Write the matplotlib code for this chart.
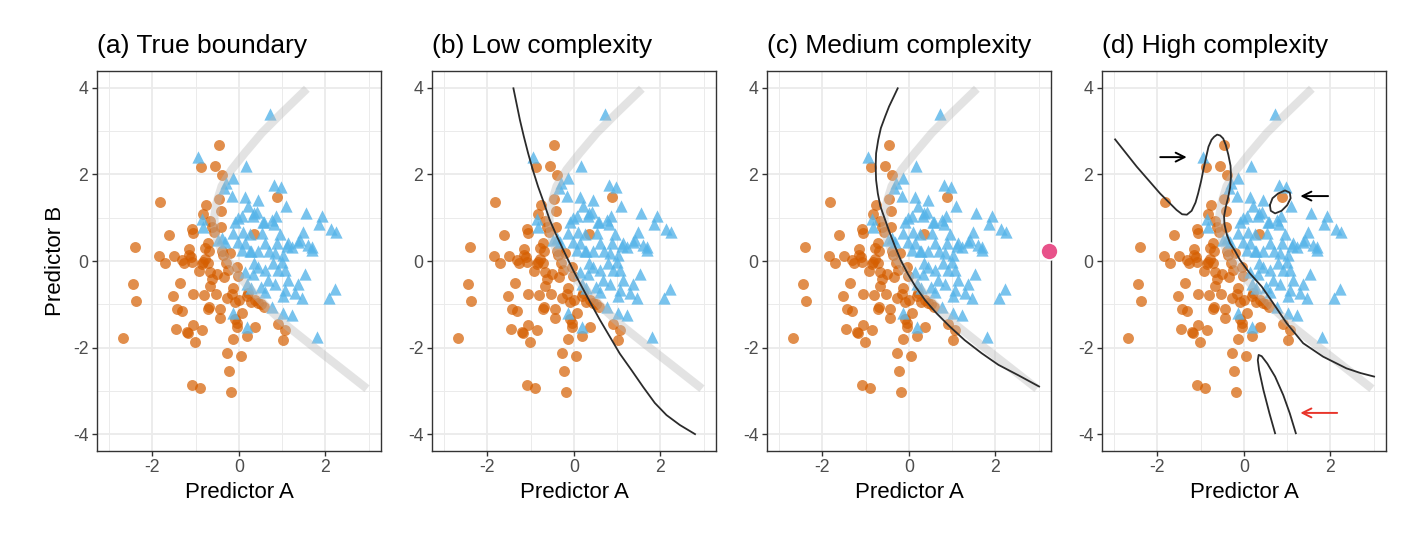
import matplotlib
matplotlib.use('Agg')
import matplotlib.pyplot as plt
from matplotlib.ticker import FixedLocator

plt.rcParams['font.family'] = ['Liberation Sans', 'DejaVu Sans']
plt.rcParams['axes.unicode_minus'] = False

# class 1 (orange circles)
orange_x = [-0.46, -0.87, -0.56, -0.40, -1.83, 0.88, -0.45, -0.76, -0.42, -0.82,
            -0.68, -1.62, -2.41, -1.09, -1.06, -0.63, -0.58, -0.42, -0.71, -0.79,
            -0.69, -1.15, -1.16, -1.85, -1.72, -1.51, -1.31, -1.27, -1.11, -1.08,
            -0.84, -0.78, -0.72, -0.86, -0.40, -0.21, -0.36, 0.34, -0.92, -0.66,
            -0.63, -0.66, -0.29, -0.25, -0.05, -0.03, -0.51, -0.34, -2.45, -2.37,
            -1.36, -1.52, -1.06, -0.80, -0.53, -0.13, -0.17, -0.28, -0.08, 0.00,
            0.22, 0.18, 0.27, 0.36, 0.45, 0.58, 0.52, -1.44, -1.31, -0.71,
            -0.69, -0.44, -0.43, 0.06, -0.09, -0.05, -0.05, 0.37, 0.18, 0.91,
            1.06, 1.02, -1.46, -1.19, -1.18, -1.06, -0.86, -1.01, -2.69, -0.13,
            -0.28, 0.05, -0.24, -1.09, -0.89, -0.19]
orange_y = [2.68, 2.17, 2.19, 1.99, 1.37, 1.49, 1.43, 1.30, 1.15, 1.09,
            0.92, 0.59, 0.33, 0.74, 0.64, 0.79, 0.68, 0.78, 0.41, 0.29,
            0.22, 0.28, 0.13, 0.12, -0.04, 0.12, 0.02, -0.04, 0.10, -0.02,
            -0.02, 0.04, -0.05, -0.08, 0.22, 0.18, 0.14, 0.62, -0.23, -0.25,
            -0.42, -0.58, -0.04, -0.21, -0.13, -0.35, -0.29, -0.38, -0.52, -0.92,
            -0.50, -0.81, -0.77, -0.79, -0.77, -0.63, -0.76, -0.85, -0.94, -0.89,
            -0.73, -0.82, -0.95, -0.90, -0.98, -1.07, -0.99, -1.12, -1.15, -1.10,
            -1.06, -1.12, -1.31, -1.19, -1.35, -1.44, -1.53, -1.53, -1.73, -1.46,
            -1.60, -1.82, -1.56, -1.63, -1.67, -1.48, -1.60, -1.87, -1.79, -1.81,
            -2.12, -2.20, -2.55, -2.87, -2.94, -3.02]

# class 2 (blue triangles)
blue_x = [0.72, -0.94, 0.16, -0.13, -0.31, -0.34, -0.17, 0.15, 0.45, 0.82,
          0.97, 1.08, 0.20, 0.41, 0.33, 0.06, -0.09, -0.02, 0.59, 0.85,
          0.82, 0.54, 0.25, 1.54, 1.93, 1.85, 2.14, 2.24, 1.47, 0.95,
          -0.86, -0.82, -0.13, -0.40, 0.14, -0.03, 0.60, 0.87, -0.48, 1.14,
          1.22, 1.37, 1.68, 1.70, 0.29, 0.43, 0.69, 0.83, 1.03, 0.35,
          0.45, 0.79, 0.99, 1.06, 1.53, 0.14, 0.33, 0.60, 0.91, 0.68,
          0.83, 1.14, 1.37, 1.06, 0.18, 0.29, 0.52, 0.60, 1.03, 1.29,
          1.46, 2.22, 2.08, 0.76, 1.03, 1.23, -0.13, 0.18, 1.80, 0.10,
          0.35, 0.55, 0.76, 1.12, 1.41, 1.60, 0.06, 0.25, -0.32]
blue_y = [3.39, 2.40, 2.20, 1.91, 1.80, 1.68, 1.50, 1.49, 1.41, 1.76,
          1.72, 1.27, 1.26, 1.14, 1.03, 1.05, 0.91, 0.99, 0.91, 1.03,
          0.86, 0.64, 0.62, 1.10, 1.05, 0.86, 0.73, 0.68, 0.68, 0.62,
          0.96, 0.79, 0.64, 0.52, 0.41, 0.45, 0.41, 0.41, 0.49, 0.41,
          0.33, 0.45, 0.33, 0.25, 0.22, 0.24, 0.22, 0.19, 0.14, -0.04,
          -0.13, -0.05, -0.02, -0.21, -0.29, -0.25, -0.29, -0.21, -0.21, -0.44,
          -0.52, -0.44, -0.52, -0.67, -0.52, -0.63, -0.59, -0.71, -0.82, -0.75,
          -0.86, -0.65, -0.86, -1.07, -1.19, -1.25, -1.21, -1.53, -1.75, 0.68,
          1.10, 0.89, 0.95, 0.35, 0.49, 0.38, 0.26, 0.22, 0.45]

# true class boundary (grey band)
true_x = [1.57, 0.99, 0.53, 0.14, -0.17, -0.40, -0.52, -0.57, -0.56, -0.48,
          -0.36, -0.21, -0.02, 0.29, 0.68, 1.14, 1.68, 2.22, 2.96]
true_y = [3.98, 3.42, 2.96, 2.50, 2.11, 1.73, 1.34, 1.03, 0.72, 0.42,
          0.15, -0.06, -0.33, -0.68, -1.10, -1.52, -1.95, -2.37, -2.95]

# fitted boundaries
low_x = [-1.40, -1.33, -1.25, -1.16, -1.06, -0.95, -0.83, -0.69, -0.56, -0.39,
         -0.21, -0.02, 0.18, 0.39, 0.60, 0.83, 1.06, 1.33, 1.60, 1.87,
         2.14, 2.45, 2.80]
low_y = [3.99, 3.65, 3.26, 2.88, 2.49, 2.10, 1.72, 1.33, 0.95, 0.56,
         0.18, -0.21, -0.59, -0.98, -1.36, -1.75, -2.14, -2.52, -2.91, -3.28,
         -3.56, -3.79, -4.00]

med_x = [-0.26, -0.35, -0.46, -0.55, -0.65, -0.71, -0.76, -0.77, -0.76, -0.72,
         -0.66, -0.55, -0.44, -0.32, -0.19, -0.03, 0.15, 0.37, 0.64, 0.95,
         1.29, 1.68, 2.07, 2.53, 3.01]
med_y = [3.99, 3.80, 3.57, 3.34, 3.07, 2.80, 2.49, 2.18, 1.87, 1.56,
         1.26, 0.95, 0.64, 0.33, 0.02, -0.29, -0.59, -0.90, -1.21, -1.52,
         -1.83, -2.13, -2.40, -2.64, -2.90]

high_x = [-2.98, -2.48, -1.94, -1.56, -1.43, -1.32, -1.21, -1.12, -1.06, -0.99,
          -0.94, -0.87, -0.82, -0.75, -0.69, -0.62, -0.55, -0.48, -0.42, -0.36,
          -0.31, -0.30, -0.32, -0.37, -0.42, -0.46, -0.45, -0.40, -0.32, -0.20,
          -0.09, 0.14, 0.41, 0.68, 0.99, 1.37, 1.83, 2.37, 2.70, 3.01]
high_y = [2.81, 2.18, 1.56, 1.18, 1.08, 1.07, 1.16, 1.35, 1.56, 1.85,
          2.10, 2.42, 2.64, 2.80, 2.87, 2.92, 2.90, 2.83, 2.68, 2.45,
          2.20, 1.95, 1.70, 1.45, 1.25, 1.03, 0.85, 0.62, 0.41, 0.22,
          0.02, -0.29, -0.59, -0.98, -1.44, -1.90, -2.21, -2.48, -2.59, -2.67]

island_x = [0.60, 0.66, 0.79, 0.95, 1.06, 1.08, 1.00, 0.87, 0.72, 0.62, 0.60]
island_y = [1.29, 1.45, 1.56, 1.63, 1.58, 1.45, 1.29, 1.16, 1.10, 1.16, 1.29]

loop_x = [0.72, 0.59, 0.45, 0.35, 0.32, 0.34, 0.41, 0.54, 0.72, 0.91, 1.06, 1.20]
loop_y = [-3.98, -3.52, -2.98, -2.52, -2.29, -2.17, -2.20, -2.37, -2.67, -3.10, -3.52, -3.98]

titles = ['(a) True boundary', '(b) Low complexity',
          '(c) Medium complexity', '(d) High complexity']

fig = plt.figure(figsize=(14.25, 5.37), dpi=100)
fig.patch.set_facecolor('white')

W, H = 1425.0, 537.0
lefts = [96.7, 431.7, 766.7, 1101.7]
axes = []
for i, left in enumerate(lefts):
    ax = fig.add_axes([left / W, (H - 451) / H, 284.5 / W, 380 / H])
    axes.append(ax)
    ax.set_xlim(-3.29, 3.29)
    ax.set_ylim(-4.39, 4.39)
    ax.xaxis.set_major_locator(FixedLocator([-2, 0, 2]))
    ax.yaxis.set_major_locator(FixedLocator([-4, -2, 0, 2, 4]))
    ax.xaxis.set_minor_locator(FixedLocator([-3, -1, 1, 3]))
    ax.yaxis.set_minor_locator(FixedLocator([-3, -1, 1, 3]))
    ax.grid(which='major', color='#EBEBEB', lw=1.3, zorder=0)
    ax.grid(which='minor', color='#EBEBEB', lw=0.7, zorder=0)
    ax.set_axisbelow(True)
    ax.tick_params(which='minor', length=0)
    ax.tick_params(which='major', length=3.5, width=1.0, color='#333333',
                   labelcolor='#4D4D4D', labelsize=12.7, pad=2.5)
    for s in ax.spines.values():
        s.set_color('#333333')
        s.set_linewidth(1.0)

    ax.scatter(orange_x, orange_y, s=62, marker='o', color='#D55E00',
               alpha=0.7, linewidths=0, zorder=2)
    ax.scatter(blue_x, blue_y, s=78, marker='^', color='#56B4E9',
               alpha=0.8, linewidths=0, zorder=2)
    ax.plot(true_x, true_y, color='#BBBBBB', lw=6, alpha=0.4,
            solid_capstyle='butt', zorder=3)

    ax.set_title(titles[i], loc='left', fontsize=19, pad=13, color='black')
    ax.set_xlabel('Predictor A', fontsize=16, labelpad=4)

axes[0].set_ylabel('Predictor B', fontsize=16, labelpad=5)

axes[1].plot(low_x, low_y, color='#2B2B2B', lw=1.3, zorder=4)
axes[2].plot(med_x, med_y, color='#2B2B2B', lw=1.3, zorder=4)
axes[3].plot(high_x, high_y, color='#2B2B2B', lw=1.3, zorder=4)
axes[3].plot(island_x, island_y, color='#2B2B2B', lw=1.3, zorder=4)
axes[3].plot(loop_x, loop_y, color='#2B2B2B', lw=1.3, zorder=4)

arrow_kw = dict(arrowstyle='->', lw=1.4, mutation_scale=16)
axes[3].annotate('', xy=(-1.26, 2.40), xytext=(-2.0, 2.40),
                 arrowprops=dict(color='black', **arrow_kw), zorder=5)
axes[3].annotate('', xy=(1.24, 1.50), xytext=(2.01, 1.50),
                 arrowprops=dict(color='black', **arrow_kw), zorder=5)
axes[3].annotate('', xy=(1.24, -3.51), xytext=(2.22, -3.51),
                 arrowprops=dict(color='#E8352B', **arrow_kw), zorder=5)

# stray highlight marker on the right edge of panel (c)
axes[2].scatter([3.24], [0.22], s=150, color='#E8528A', edgecolors='white',
                linewidths=1.2, clip_on=False, zorder=6)

fig.savefig('out.png', dpi=100, facecolor='white')
